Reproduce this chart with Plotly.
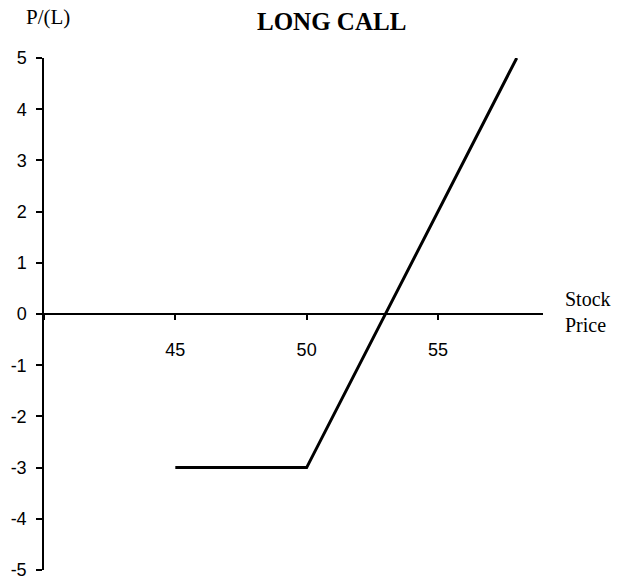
import plotly.graph_objects as go

stock_price = [45, 50, 58]
profit_loss = [-3, -3, 5]
x_tick_vals = [40, 45, 50, 55]
x_tick_text = ["", "45", "50", "55"]
y_tick_vals = [-5, -4, -3, -2, -1, 0, 1, 2, 3, 4, 5]
y_tick_text = ["-5", "-4", "-3", "-2", "-1", "0", "1", "2", "3", "4", "5"]

W, H = 622, 581
L, R, T, B = 44, 79, 58, 11
plot_w = W - L - R
plot_h = H - T - B

fig = go.Figure()
fig.add_trace(go.Scatter(
    x=stock_price, y=profit_loss, mode="lines",
    line=dict(color="black", width=3), cliponaxis=False, showlegend=False,
    hoverinfo="skip"))

fig.update_layout(
    width=W, height=H,
    margin=dict(l=L, r=R, t=T, b=B, autoexpand=False),
    paper_bgcolor="white", plot_bgcolor="white",
    xaxis=dict(range=[40, 59], tickvals=x_tick_vals, ticktext=x_tick_text,
               showgrid=False, zeroline=False, showline=True, linecolor="black",
               linewidth=1.5, ticks="outside", ticklen=5, tickwidth=1.5,
               tickcolor="black", anchor="free", position=0.5, automargin=False,
               ticklabelstandoff=15, ticklabeloverflow="allow",
               tickfont=dict(family="Liberation Sans, Arial", size=18, color="black")),
    yaxis=dict(range=[-5, 5], tickvals=y_tick_vals, ticktext=y_tick_text,
               showgrid=False, zeroline=False, automargin=False,
               showline=True, linecolor="black", linewidth=1.5, ticks="outside",
               ticklen=6, tickwidth=1.5, tickcolor="black", ticklabelstandoff=6,
               ticklabeloverflow="allow",
               tickfont=dict(family="Liberation Sans, Arial", size=18, color="black")),
    annotations=[
        dict(text="<b>LONG CALL</b>", x=(331 - L) / plot_w, xref="paper", xanchor="center",
             y=1 + (T - 21) / plot_h, yref="paper",
             yanchor="middle", showarrow=False,
             font=dict(family="Liberation Serif, Times New Roman", size=25, color="black")),
        dict(text="P/(L)", x=(48 - L) / plot_w, xref="paper", xanchor="center",
             y=1 + (T - 17) / plot_h, yref="paper", yanchor="middle", showarrow=False,
             font=dict(family="Liberation Serif, Times New Roman", size=21, color="black")),
        dict(text="Stock<br>Price", x=1.0, xref="paper", xanchor="left", xshift=20,
             y=0, yref="y", yanchor="middle", yshift=2, align="left", showarrow=False,
             font=dict(family="Liberation Serif, Times New Roman", size=20, color="black")),
    ],
)

fig.write_html("out.html", config={"displayModeBar": False},
               post_script="document.body.style.margin='0';document.body.style.overflow='hidden';")
